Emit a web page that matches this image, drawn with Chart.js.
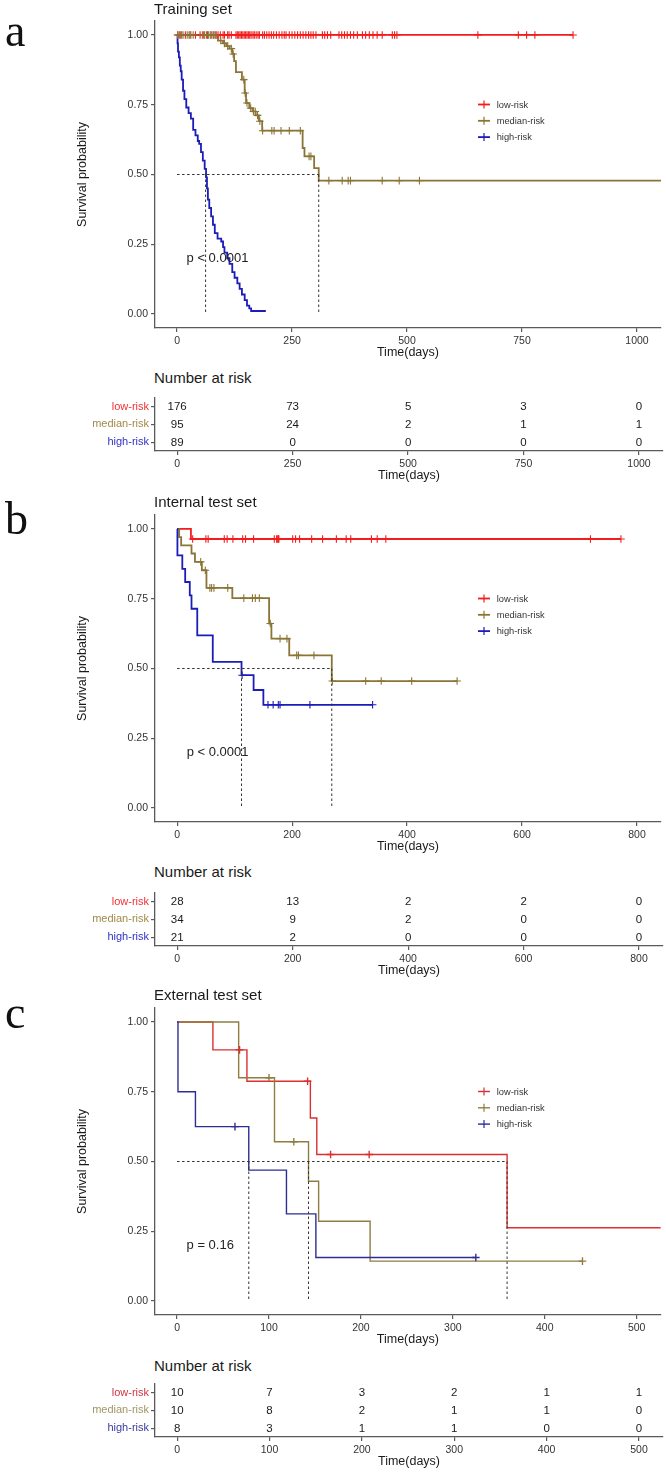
<!DOCTYPE html>
<html>
<head>
<meta charset="utf-8">
<script src="https://cdn.jsdelivr.net/npm/chart.js@4.4.1/dist/chart.umd.min.js"></script>
<style>
body { margin: 0; background: #fff; }
#wrap { position: relative; width: 666px; height: 1474px; overflow: hidden; font-family: "Liberation Sans", Arial, sans-serif; color: #1a1a1a; }
canvas { position: absolute; left: 0; }
.lbl { position: absolute; white-space: nowrap; }
.title { font-size: 15px; line-height: 18px; left: 154px; }
.letter { font-family: "Liberation Serif", "Times New Roman", serif; font-size: 46px; line-height: 46px; color: #111; left: 5px; }
</style>
</head>
<body>
<div id="wrap">
<canvas id="kmA" width="666" height="363"></canvas>
<canvas id="riskA" width="666" height="98"></canvas>
<canvas id="kmB" width="666" height="363"></canvas>
<canvas id="riskB" width="666" height="98"></canvas>
<canvas id="kmC" width="666" height="363"></canvas>
<canvas id="riskC" width="666" height="98"></canvas>

<div class="lbl letter" style="top:8px">a</div>
<div class="lbl letter" style="top:496px">b</div>
<div class="lbl letter" style="top:990px">c</div>
<div class="lbl title" style="top:0px">Training set</div>
<div class="lbl title" style="top:369px">Number at risk</div>
<div class="lbl title" style="top:493px">Internal test set</div>
<div class="lbl title" style="top:863px">Number at risk</div>
<div class="lbl title" style="top:986px">External test set</div>
<div class="lbl title" style="top:1357px">Number at risk</div>
</div>

<script>
// ---------- data ----------
const groupNames = ['low-risk', 'median-risk', 'high-risk'];
const survTicks = [0, 0.25, 0.5, 0.75, 1];

// Training set
const trainTicks = [0, 250, 500, 750, 1000];
const trainLowTime = [0, 861];
const trainLowSurv = [1, 1];
const trainLowCensor = [2, 8, 18, 28, 40, 50, 58, 66, 74, 80, 85, 89, 94, 100, 103, 110, 113, 118,
    128, 131, 134, 137, 140, 143, 146, 149, 152, 155, 158, 161, 165, 168, 172, 176, 179,
    186, 190, 195, 200, 205, 210, 216, 222, 228, 233, 237, 244, 250, 256, 262, 268, 274, 280,
    286, 291, 296, 302, 316, 321, 327, 334, 352, 358, 364, 370, 377, 384, 392, 403, 410, 418,
    426, 435, 446, 468, 473, 478, 654, 742, 760, 778, 861];
const trainMedTime = [0, 89, 100, 107, 114, 120, 124, 128, 141, 147, 150, 157, 164, 171, 178, 185, 273, 277, 298, 308, 1100];
const trainMedSurv = [1, 0.98, 0.97, 0.96, 0.951, 0.932, 0.906, 0.867, 0.84, 0.792, 0.756, 0.738, 0.726, 0.712, 0.691, 0.657, 0.595, 0.565, 0.523, 0.478, 0.478];
const trainMedCensor = [1, 5, 10, 13, 22, 26, 30, 35, 55, 60, 64, 68, 72, 76, 80, 84,
    95, 103, 110, 118, 122, 145, 148, 152, 160, 166, 170, 175, 180, 186,
    206, 211, 226, 244, 268, 287, 291, 330, 359, 372, 377, 446, 483, 527];
const trainHighTime = [0, 1, 2, 4, 6, 8, 10, 13, 16, 20, 25, 30, 35, 40, 45, 48, 52, 56, 60, 63, 65, 67, 70, 74, 78, 82, 88, 96, 100, 103, 109, 114, 120, 125, 131, 136, 141, 147, 152, 157, 161, 193];
const trainHighSurv = [1, 0.97, 0.94, 0.92, 0.89, 0.87, 0.84, 0.80, 0.77, 0.74, 0.72, 0.70, 0.66, 0.64, 0.62, 0.61, 0.58, 0.55, 0.52, 0.49, 0.45, 0.41, 0.38, 0.35, 0.32, 0.29, 0.27, 0.26, 0.24, 0.22, 0.20, 0.18, 0.15, 0.13, 0.11, 0.09, 0.07, 0.05, 0.03, 0.02, 0.011, 0.011];
const trainHighCensor = [];
const trainMedians = [62, 308];
const trainRiskLow = [176, 73, 5, 3, 0];
const trainRiskMed = [95, 24, 2, 1, 1];
const trainRiskHigh = [89, 0, 0, 0, 0];

// Internal test set
const intTicks = [0, 200, 400, 600, 800];
const intLowTime = [0, 24, 772];
const intLowSurv = [1, 0.964, 0.964];
const intLowCensor = [27, 50, 54, 82, 87, 97, 114, 119, 133, 169, 173, 175, 176, 177, 201, 206, 213, 234, 253, 277, 294, 302, 338, 348, 363, 719, 772];
const intMedTime = [0, 3.5, 7, 25, 31, 43, 51, 96, 160, 164, 195, 269, 487];
const intMedSurv = [1, 0.971, 0.941, 0.912, 0.882, 0.852, 0.789, 0.752, 0.661, 0.607, 0.547, 0.455, 0.455];
const intMedCensor = [41, 49, 57, 60, 64, 88, 116, 131, 136, 143, 162, 179, 191, 208, 211, 238, 270, 328, 355, 408, 487];
const intHighTime = [0, 0.5, 9, 14, 22, 25, 35, 62, 112, 133, 150, 340];
const intHighSurv = [1, 0.905, 0.857, 0.810, 0.762, 0.714, 0.619, 0.524, 0.476, 0.423, 0.370, 0.370];
const intHighCensor = [113, 158, 167, 176, 179, 231, 340];
const intMedians = [112, 269];
const intRiskLow = [28, 13, 2, 2, 0];
const intRiskMed = [34, 9, 2, 0, 0];
const intRiskHigh = [21, 2, 0, 0, 0];

// External test set
const extTicks = [0, 100, 200, 300, 400, 500];
const extLowTime = [0, 39, 76, 145, 152, 359, 560];
const extLowSurv = [1, 0.9, 0.7875, 0.656, 0.525, 0.2625, 0.2625];
const extLowCensor = [68, 142, 167, 209];
const extMedTime = [0, 67, 106, 143, 154, 210, 441];
const extMedSurv = [1, 0.8, 0.571, 0.429, 0.286, 0.143, 0.143];
const extMedCensor = [100, 127, 441];
const extHighTime = [0, 1, 20, 78, 119, 151, 325];
const extHighSurv = [1, 0.75, 0.625, 0.469, 0.3125, 0.156, 0.156];
const extHighCensor = [63, 325];
const extMedians = [78, 143, 359];
const extRiskLow = [10, 7, 3, 2, 1, 1];
const extRiskMed = [10, 8, 2, 1, 1, 0];
const extRiskHigh = [8, 3, 1, 1, 0, 0];

// ---------- styling ----------
const FONT = '"Liberation Sans", Arial, sans-serif';
const AXIS = '#5a5a5a';
const colorsAB = ['#f21d1d', '#8b7536', '#1c1cb8'];
const colorsC = ['#dc2f2f', '#8f7d40', '#2d2d96'];
const labelColorsAB = ['#f03035', '#a08a4a', '#3030cc'];
const labelColorsC = ['#cc3540', '#a09664', '#3a3aa0'];

Chart.defaults.font.family = FONT;
Chart.defaults.color = '#333';

// step function value at time t
function survAt(time, surv, t) {
    let s = surv[0];
    for (let i = 0; i < time.length; i++) {
        if (time[i] <= t) s = surv[i];
    }
    return s;
}

function xAxis(min, max, ticks) {
    return {
        type: 'linear',
        min: min,
        max: max,
        afterBuildTicks: s => { s.ticks = ticks.map(v => ({ value: v })); },
        afterFit: s => { s.height = 36; },
        ticks: { font: { size: 10.5 }, color: '#333', padding: 3, callback: v => String(v) },
        grid: { drawOnChartArea: false, tickLength: 4, color: AXIS, lineWidth: 1.2 },
        border: { display: true, color: AXIS, width: 1.3 },
        title: { display: true, text: 'Time(days)', font: { size: 12.5 }, color: '#1a1a1a', padding: { top: 0, bottom: 3.5 } }
    };
}

// p-value text and legend inside the plot
const kmExtras = {
    id: 'kmExtras',
    afterDatasetsDraw(chart, args, opts) {
        const { ctx, chartArea, scales } = chart;
        ctx.save();
        ctx.font = '13px ' + FONT;
        ctx.fillStyle = '#222';
        ctx.textAlign = 'left';
        ctx.textBaseline = 'middle';
        ctx.fillText(opts.pText, scales.x.getPixelForValue(0) + 9.5, scales.y.getPixelForValue(0.2));

        opts.items.forEach((it, i) => {
            const y = chartArea.top + 83.5 + i * 16.3;
            const x0 = chartArea.left + 323;
            ctx.strokeStyle = it.color;
            ctx.lineWidth = opts.lw;
            ctx.beginPath();
            ctx.moveTo(x0, y);
            ctx.lineTo(x0 + 12, y);
            ctx.stroke();
            ctx.lineWidth = 1.2;
            ctx.beginPath();
            ctx.moveTo(x0 + 6, y - 4);
            ctx.lineTo(x0 + 6, y + 4);
            ctx.stroke();
            ctx.font = '9.3px ' + FONT;
            ctx.fillStyle = '#333';
            ctx.fillText(it.label, chartArea.left + 341.7, y + 0.5);
        });
        ctx.restore();
    }
};

// numbers in the risk table
const riskNumbers = {
    id: 'riskNumbers',
    afterDatasetsDraw(chart) {
        const { ctx } = chart;
        const ds = chart.data.datasets[0];
        const meta = chart.getDatasetMeta(0);
        ctx.save();
        ctx.font = '11.5px ' + FONT;
        ctx.fillStyle = '#1a1a1a';
        ctx.textAlign = 'center';
        ctx.textBaseline = 'middle';
        meta.data.forEach((pt, i) => ctx.fillText(String(ds.data[i].n), pt.x, pt.y + 0.5));
        ctx.restore();
    }
};

function dashed(pts) {
    return { data: pts, borderColor: '#333', borderWidth: 1, borderDash: [2.5, 2.5], pointRadius: 0, fill: false };
}

function kmChart(id, plotTop, cfg) {
    const cv = document.getElementById(id);
    cv.style.top = (plotTop - 20) + 'px';
    const datasets = [];

    // median lines
    const mMax = Math.max(...cfg.medians);
    datasets.push(dashed([{ x: 0, y: 0.5 }, { x: mMax, y: 0.5 }]));
    cfg.medians.forEach(m => datasets.push(dashed([{ x: m, y: 0.5 }, { x: m, y: 0 }])));

    // censor marks (high on top)
    const rev = cfg.groups.slice().reverse();
    rev.forEach(g => datasets.push({
        data: g.censor.map(t => ({ x: t, y: survAt(g.time, g.surv, t) })),
        showLine: false,
        pointStyle: 'cross',
        pointRadius: 3.8,
        pointBorderColor: g.color,
        pointBorderWidth: cfg.cw,
        borderColor: g.color
    }));
    // survival curves
    rev.forEach(g => datasets.push({
        data: g.time.map((t, i) => ({ x: t, y: g.surv[i] })),
        stepped: 'before',
        borderColor: g.color,
        borderWidth: cfg.lw,
        pointRadius: 0,
        fill: false
    }));

    new Chart(cv, {
        type: 'line',
        data: { datasets: datasets },
        options: {
            responsive: false,
            animation: false,
            devicePixelRatio: 1,
            events: [],
            layout: { padding: { top: 20, right: 3, left: 0, bottom: 0 } },
            scales: {
                x: xAxis(cfg.xmin, cfg.xmax, cfg.ticks),
                y: {
                    type: 'linear',
                    min: -0.05,
                    max: 1.05,
                    afterBuildTicks: s => { s.ticks = survTicks.map(v => ({ value: v })); },
                    afterFit: s => { s.width = 155; },
                    ticks: { font: { size: 10.5 }, color: '#333', padding: 3, callback: v => Number(v).toFixed(2) },
                    grid: { drawOnChartArea: false, tickLength: 4, color: AXIS, lineWidth: 1.2 },
                    border: { display: true, color: AXIS, width: 1.3 },
                    title: { display: true, text: 'Survival probability', font: { size: 12.5 }, color: '#1a1a1a', padding: { top: 75.5, bottom: 0 } }
                }
            },
            plugins: {
                legend: { display: false },
                tooltip: { enabled: false },
                kmExtras: {
                    pText: cfg.pText,
                    lw: cfg.lw,
                    items: cfg.groups.map((g, i) => ({ label: groupNames[i], color: g.color }))
                }
            }
        },
        plugins: [kmExtras]
    });
}

function riskChart(id, axisY, cfg) {
    const cv = document.getElementById(id);
    const plotTop = axisY - 57;
    cv.style.top = (plotTop - 5) + 'px';
    const data = [];
    cfg.counts.forEach((arr, r) => arr.forEach((n, i) => data.push({ x: cfg.ticks[i], y: groupNames[r], n: n })));

    new Chart(cv, {
        type: 'scatter',
        data: { datasets: [{ data: data, pointRadius: 0 }] },
        options: {
            responsive: false,
            animation: false,
            devicePixelRatio: 1,
            events: [],
            layout: { padding: { top: 5, right: 3, left: 0, bottom: 0 } },
            scales: {
                x: xAxis(cfg.xmin, cfg.xmax, cfg.ticks),
                y: {
                    type: 'category',
                    labels: groupNames,
                    offset: true,
                    afterFit: s => { s.width = 155; },
                    ticks: { font: { size: 11 }, padding: 2, color: c => cfg.labelColors[c.index] },
                    grid: { drawOnChartArea: false, tickLength: 4, color: AXIS, lineWidth: 1.2 },
                    border: { display: true, color: AXIS, width: 1.3 }
                }
            },
            plugins: { legend: { display: false }, tooltip: { enabled: false } }
        },
        plugins: [riskNumbers]
    });
}

// ---------- build ----------
kmChart('kmA', 21, {
    xmin: -48, xmax: 1052, ticks: trainTicks, lw: 1.8, cw: 1.1, pText: 'p < 0.0001', medians: trainMedians,
    groups: [
        { time: trainLowTime, surv: trainLowSurv, censor: trainLowCensor, color: colorsAB[0] },
        { time: trainMedTime, surv: trainMedSurv, censor: trainMedCensor, color: colorsAB[1] },
        { time: trainHighTime, surv: trainHighSurv, censor: trainHighCensor, color: colorsAB[2] }
    ]
});
riskChart('riskA', 451, {
    xmin: -48, xmax: 1052, ticks: trainTicks, labelColors: labelColorsAB,
    counts: [trainRiskLow, trainRiskMed, trainRiskHigh]
});

kmChart('kmB', 515, {
    xmin: -38.5, xmax: 841.5, ticks: intTicks, lw: 1.8, cw: 1.1, pText: 'p < 0.0001', medians: intMedians,
    groups: [
        { time: intLowTime, surv: intLowSurv, censor: intLowCensor, color: colorsAB[0] },
        { time: intMedTime, surv: intMedSurv, censor: intMedCensor, color: colorsAB[1] },
        { time: intHighTime, surv: intHighSurv, censor: intHighCensor, color: colorsAB[2] }
    ]
});
riskChart('riskB', 946, {
    xmin: -38.5, xmax: 841.5, ticks: intTicks, labelColors: labelColorsAB,
    counts: [intRiskLow, intRiskMed, intRiskHigh]
});

kmChart('kmC', 1008, {
    xmin: -24, xmax: 526, ticks: extTicks, lw: 1.4, cw: 1.4, pText: 'p = 0.16', medians: extMedians,
    groups: [
        { time: extLowTime, surv: extLowSurv, censor: extLowCensor, color: colorsC[0] },
        { time: extMedTime, surv: extMedSurv, censor: extMedCensor, color: colorsC[1] },
        { time: extHighTime, surv: extHighSurv, censor: extHighCensor, color: colorsC[2] }
    ]
});
riskChart('riskC', 1437, {
    xmin: -24, xmax: 526, ticks: extTicks, labelColors: labelColorsC,
    counts: [extRiskLow, extRiskMed, extRiskHigh]
});
</script>
</body>
</html>
